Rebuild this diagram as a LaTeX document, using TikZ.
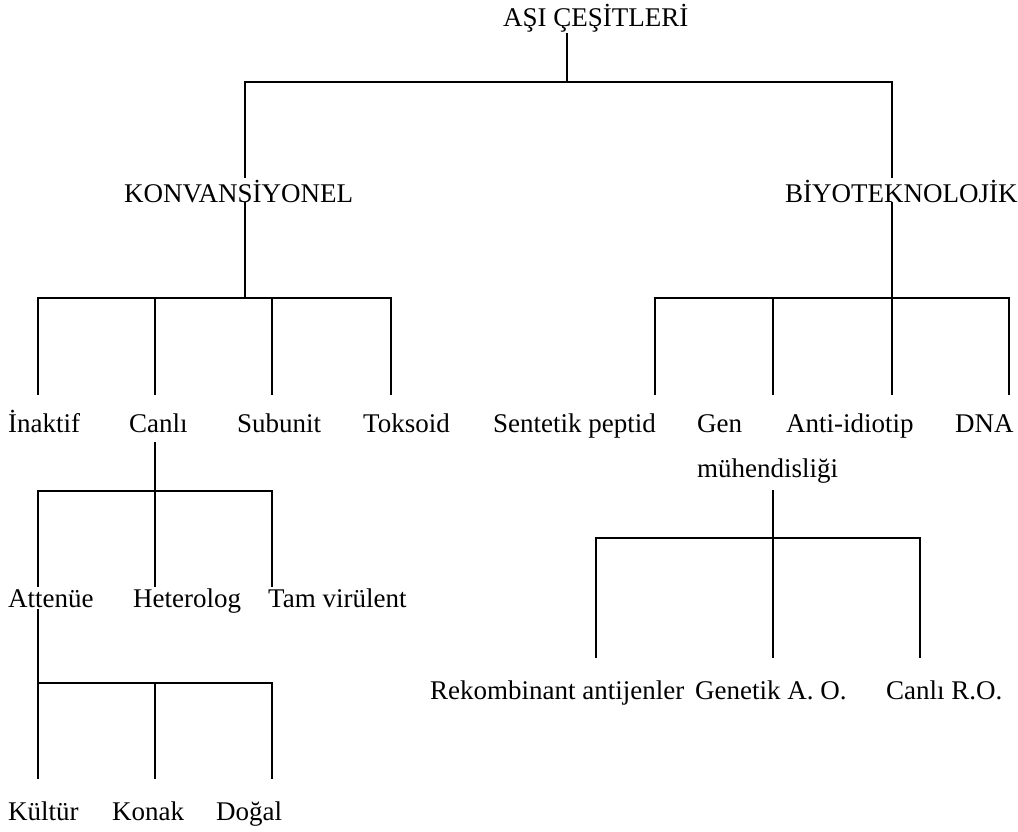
\documentclass[tikz,border=0pt]{standalone}
\usepackage{fontspec}
\setmainfont{Liberation Serif}
\begin{document}
\begin{tikzpicture}[x=1pt,y=-1pt,
  lbl/.style={anchor=base west,inner sep=0pt,font=\fontsize{27}{32}\selectfont},
  conn/.style={line width=1.6pt,line cap=rect}]
\useasboundingbox (0,0) rectangle (1018,831);
% labels
\node[lbl] (root) at (503,26) {AŞI ÇEŞİTLERİ};
\node[lbl] (konv) at (124,202) {KONVANSİYONEL};
\node[lbl] (biyo) at (785,202) {BİYOTEKNOLOJİK};
\node[lbl] (inak) at (8,432) {İnaktif};
\node[lbl] (canli) at (129,432) {Canlı};
\node[lbl] (subu) at (237,432) {Subunit};
\node[lbl] (toks) at (363,432) {Toksoid};
\node[lbl] (sent) at (493,432) {Sentetik peptid};
\node[lbl] (gen) at (697,432) {Gen};
\node[lbl] (genb) at (697,477) {mühendisliği};
\node[lbl] (anti) at (786,432) {Anti-idiotip};
\node[lbl] (dna) at (955,432) {DNA};
\node[lbl] (att) at (8,607) {Attenüe};
\node[lbl] (het) at (133,607) {Heterolog};
\node[lbl] (tam) at (268,607) {Tam virülent};
\node[lbl] (kul) at (8,820) {Kültür};
\node[lbl] (kon) at (112,820) {Konak};
\node[lbl] (dog) at (216,820) {Doğal};
\node[lbl] (rek) at (430,699) {Rekombinant antijenler};
\node[lbl] (gao) at (695,699) {Genetik A. O.};
\node[lbl] (cro) at (886,699) {Canlı R.O.};
% junction coordinates
\coordinate (rB) at (567,34);
\coordinate (j0) at (567,82);
\coordinate (kT) at (245,82);
\coordinate (bT) at (892,82);
\coordinate (kA) at (245,177);
\coordinate (bA) at (892,177);
\coordinate (kB) at (245,203);
\coordinate (bB) at (892,203);
\coordinate (kJ) at (245,298);
\coordinate (bJ) at (892,298);
% level 2 left
\coordinate (inT) at (38,298);
\coordinate (caT) at (155,298);
\coordinate (suT) at (272,298);
\coordinate (toT) at (391,298);
\coordinate (inE) at (38,394);
\coordinate (caE) at (155,394);
\coordinate (suE) at (272,394);
\coordinate (toE) at (391,394);
% level 2 right
\coordinate (seT) at (655,298);
\coordinate (geT) at (773,298);
\coordinate (anT) at (892,298);
\coordinate (dnT) at (1009,298);
\coordinate (seE) at (655,394);
\coordinate (geE) at (773,394);
\coordinate (anE) at (892,394);
\coordinate (dnE) at (1009,394);
% canli subtree
\coordinate (caB) at (155,443);
\coordinate (caJ) at (155,491);
\coordinate (atT) at (38,491);
\coordinate (tmT) at (272,491);
\coordinate (atE) at (38,586);
\coordinate (heE) at (155,586);
\coordinate (tmE) at (272,586);
% attenue subtree
\coordinate (atB) at (38,610);
\coordinate (atJ) at (38,683);
\coordinate (koT) at (155,683);
\coordinate (doT) at (272,683);
\coordinate (kuE) at (38,778);
\coordinate (koE) at (155,778);
\coordinate (doE) at (272,778);
% gen subtree
\coordinate (geB) at (773,491);
\coordinate (geJ) at (773,538);
\coordinate (reT) at (596,538);
\coordinate (crT) at (920,538);
\coordinate (reE) at (596,657);
\coordinate (gaE) at (773,657);
\coordinate (crE) at (920,657);
% connectors
\draw[conn] (rB) -- (j0);
\draw[conn] (kT) -- (bT);
\draw[conn] (kT) -- (kA);
\draw[conn] (bT) -- (bA);
\draw[conn] (kB) -- (kJ);
\draw[conn] (bB) -- (bJ);
\draw[conn] (inT) -- (toT);
\draw[conn] (inT) -- (inE);
\draw[conn] (caT) -- (caE);
\draw[conn] (suT) -- (suE);
\draw[conn] (toT) -- (toE);
\draw[conn] (seT) -- (dnT);
\draw[conn] (seT) -- (seE);
\draw[conn] (geT) -- (geE);
\draw[conn] (anT) -- (anE);
\draw[conn] (dnT) -- (dnE);
\draw[conn] (caB) -- (caJ);
\draw[conn] (atT) -- (tmT);
\draw[conn] (atT) -- (atE);
\draw[conn] (caJ) -- (heE);
\draw[conn] (tmT) -- (tmE);
\draw[conn] (atB) -- (kuE);
\draw[conn] (atJ) -- (doT);
\draw[conn] (koT) -- (koE);
\draw[conn] (doT) -- (doE);
\draw[conn] (geB) -- (geJ);
\draw[conn] (reT) -- (crT);
\draw[conn] (reT) -- (reE);
\draw[conn] (geJ) -- (gaE);
\draw[conn] (crT) -- (crE);
\end{tikzpicture}
\end{document}
